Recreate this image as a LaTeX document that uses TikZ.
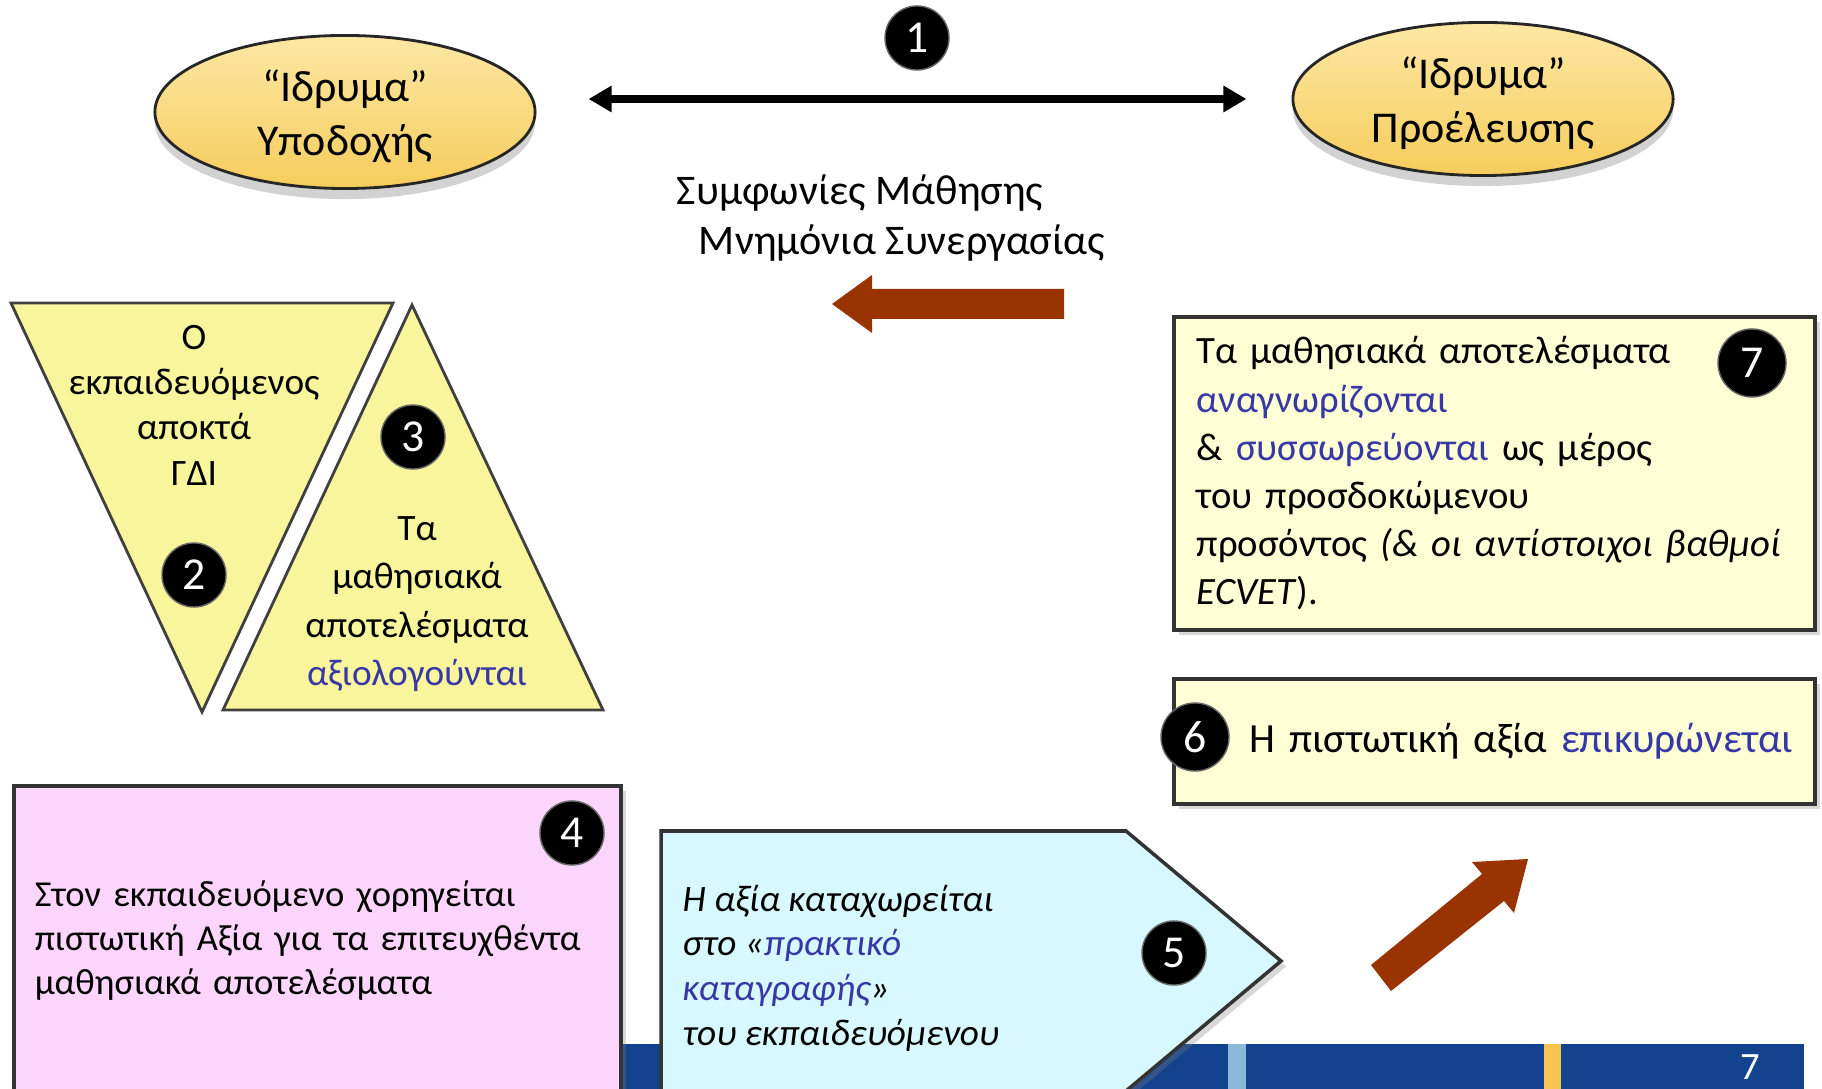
\documentclass[tikz,border=0pt]{standalone}
\usepackage{fontspec}
\setmainfont{Carlito}
\usetikzlibrary{shapes.geometric,shadows,arrows.meta}

\definecolor{gold}{HTML}{F6CD5C}
\definecolor{goldtop}{HTML}{FCE7A4}
\definecolor{triyellow}{HTML}{F8F59C}
\definecolor{cream}{HTML}{FFFFD6}
\definecolor{pinkbox}{HTML}{FCD5FC}
\definecolor{cyanbox}{HTML}{D7F8FE}
\definecolor{blu}{HTML}{3737A6}
\definecolor{rust}{HTML}{993300}
\definecolor{band}{HTML}{13428F}
\definecolor{stripeblue}{HTML}{8DB9D9}
\definecolor{stripegold}{HTML}{F9C550}

\newcommand{\unitext}[1]{\raisebox{-4.2pt}[0pt][0pt]{\makebox[0pt]{\parbox{3cm}{\centering #1}}}}

\begin{document}
\begin{tikzpicture}[x=0.01cm,y=-0.01cm]
	\tikzstyle{uni}=[ellipse,draw=black!85,line width=0.8pt,top color=goldtop,bottom color=gold,minimum width=3.8cm,minimum height=1.53cm,inner sep=0pt,font=\fontsize{12.5}{15.4}\selectfont,drop shadow={opacity=0.35,shadow xshift=0pt,shadow yshift=-3pt}]
	\tikzstyle{num}=[circle,fill=black,draw=black!60,text=white,minimum size=0.64cm,inner sep=0pt,font=\fontsize{13}{13}\selectfont]
	\tikzstyle{panel}=[rectangle,draw=black!80,line width=1pt,inner sep=0pt,anchor=north west,align=left,font=\fontsize{11}{13.7}\selectfont,drop shadow={opacity=0.3,shadow xshift=1.5pt,shadow yshift=-1.5pt}]
	\tikzstyle{tri}=[draw=black!75,line width=0.8pt,fill=triyellow]
	\tikzstyle{tritext}=[align=center,font=\fontsize{10.6}{12.9}\selectfont]

	\clip (0,0) rectangle (1822,1089);
	\fill[white] (0,0) rectangle (1822,1089);

	% footer
	\fill[band] (600,1044) rectangle (1804,1100);
	\fill[stripeblue] (1228,1044) rectangle (1246,1100);
	\fill[stripegold] (1544,1044) rectangle (1561,1100);
	\node[text=white,font=\fontsize{11}{11}\selectfont] (pagenum) at (1750,1067) {7};

	\node[uni](host) at (345,112){\unitext{“Ιδρυμα”\\Υποδοχής}};
	\node[uni](home) at (1483,99){\unitext{“Ιδρυμα”\\Προέλευσης}};
	\node[num](n1) at (917,38){1};

	\draw[{Triangle[length=0.23cm,width=0.25cm]}-{Triangle[length=0.23cm,width=0.25cm]},line width=2pt,shorten <=0.52cm,shorten >=0.45cm] (host.east |- home.west) -- (home.west);

	\node[align=left,font=\fontsize{12}{14.3}\selectfont](agree) at (891,218){Συμφωνίες Μάθησης\\\hspace*{0.22cm}Μνημόνια Συνεργασίας};

	\fill[rust] (1064,289) -- (872,289) -- (872,275) -- (832,304) -- (872,333) -- (872,319) -- (1064,319) -- cycle;

	% triangles
	\draw[tri] (11,303) -- (393,303) -- (202,712) -- cycle;
	\draw[tri] (412,305) -- (603,710) -- (223,710) -- cycle;
	\node[tritext](gdi) at (194,405){Ο\\εκπαιδευόμενος\\αποκτά\\ΓΔΙ};
	\node[tritext,font=\fontsize{10.6}{13.8}\selectfont](assess) at (417,604){Τα\\μαθησιακά\\αποτελέσματα\\\textcolor{blu}{αξιολογούνται}};
	\node[num](n2) at (194,575){2};
	\node[num](n3) at (413,437){3};

	% right boxes
	\node[panel,fill=cream,minimum width=6.41cm,minimum height=3.13cm,text width=5.95cm](outcomes) at (1172,315){Τα μαθησιακά αποτελέσματα\\
		\textcolor{blu}{αναγνωρίζονται}\\
		\& \textcolor{blu}{συσσωρεύονται} ως μέρος\\
		του προσδοκώμενου\\
		προσόντος \textit{(\& οι αντίστοιχοι βαθμοί}\\
		\textit{ECVET}).};
	\node[num,minimum size=0.68cm](n7) at (1752,363){7};

	\node[panel,fill=cream,minimum width=6.41cm,minimum height=1.25cm,text width=6.41cm,font=\fontsize{11.8}{14}\selectfont](validate) at (1172,677){\hspace*{0.76cm}Η πιστωτική αξία \textcolor{blu}{επικυρώνεται}};
	\node[num,minimum size=0.68cm](n6) at (1195,737){6};

	% left box
	\node[panel,fill=pinkbox,minimum width=6.07cm,minimum height=3.1cm,text width=5.65cm,font=\fontsize{10.4}{12.5}\selectfont](award) at (12,784){Στον εκπαιδευόμενο χορηγείται\\
		πιστωτική Αξία για τα επιτευχθέντα\\
		μαθησιακά αποτελέσματα};
	\node[num](n4) at (572,833){4};

	% record
	\draw[draw=black!80,line width=1pt,fill=cyanbox,drop shadow={opacity=0.3,shadow xshift=1.5pt,shadow yshift=-1.5pt}] (661,831) -- (1126,831) -- (1281,961) -- (1126,1091) -- (661,1091) -- cycle;
	\node[anchor=west,align=left,inner sep=0pt,font=\fontsize{10.6}{12.7}\selectfont\itshape](record) at (682,968){Η αξία καταχωρείται\\
		στο «\textcolor{blu}{πρακτικό}\\
		\textcolor{blu}{καταγραφής}»\\
		του εκπαιδευόμενου};
	\node[num](n5) at (1174,953){5};

	\fill[rust] (1371,965) -- (1482,874) -- (1472,862) -- (1528,859) -- (1514,913) -- (1504,901) -- (1391,991) -- cycle;

\end{tikzpicture}
\end{document}
